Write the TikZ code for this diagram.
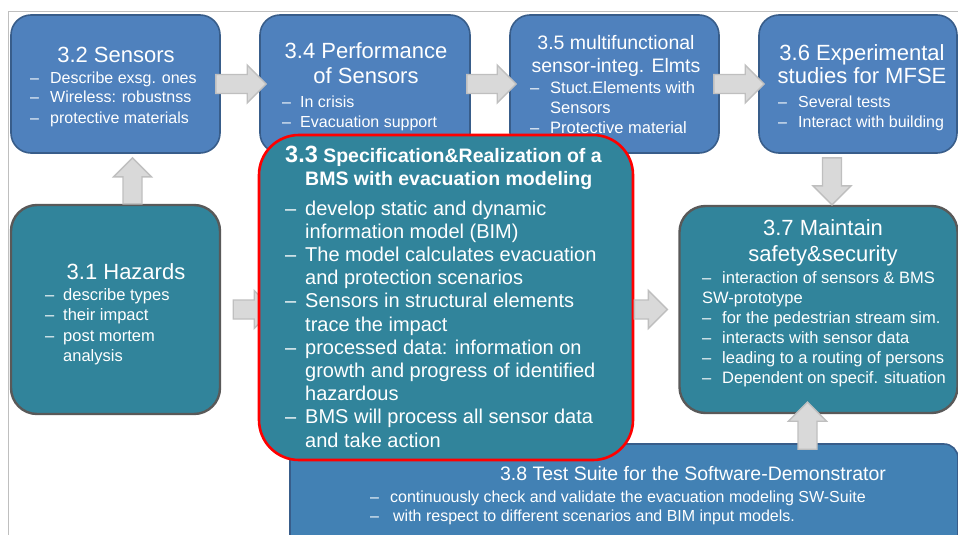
\documentclass[tikz,border=0pt]{standalone}
\usepackage{fontspec}
\setmainfont{Liberation Sans}
\usepackage{tikz}
\usetikzlibrary{calc}

\definecolor{wpblue}{HTML}{4F81BD}
\definecolor{wpblueline}{HTML}{385D8A}
\definecolor{wpteal}{HTML}{31849B}
\definecolor{wpgrayline}{HTML}{595959}
\definecolor{suiteblue}{HTML}{4281B4}
\definecolor{arrowfill}{HTML}{D9D9D9}
\definecolor{arrowline}{HTML}{BFBFBF}
\definecolor{framegray}{HTML}{BFBFBF}

\newcommand{\fsz}[2]{\fontsize{#1}{#2}\selectfont}
\newcommand{\itm}[2][20pt]{\makebox[#1][l]{–}#2}
\newcommand{\cnt}[2][20pt]{\hspace*{#1}#2}
\newcommand{\mpt}[2]{\begin{minipage}[t]{#1}#2\end{minipage}}

\begin{document}
\begin{tikzpicture}[
  x=1pt, y=-1pt,
  wp/.style={draw=wpblueline, fill=wpblue, line width=1.6pt, rounded corners=20pt, inner sep=0pt},
  haz/.style={draw=wpgrayline, fill=wpteal, line width=2.4pt, rounded corners=26pt, inner sep=0pt},
  bms/.style={draw=red, fill=wpteal, line width=2.6pt, rounded corners=40pt, inner sep=0pt},
  suite/.style={draw=wpblueline, fill=suiteblue, line width=1.6pt, rounded corners=14pt, inner sep=0pt},
  ttl/.style={inner sep=0pt, anchor=base, text=white},
  lst/.style={inner sep=0pt, anchor=base west, text=white},
  barrow/.style={draw=arrowline, fill=arrowfill, line width=1.4pt, line join=miter,
    to path={let \p1=(\tikztostart), \p2=(\tikztotarget),
      \n1={veclen(\x2-\x1,\y2-\y1)}, \n2={(\x2-\x1)/\n1}, \n3={(\y2-\y1)/\n1} in
      ({\x1-(\n3)*9.5},{\y1+(\n2)*9.5})
      -- ({\x2-(\n2)*19-(\n3)*9.5},{\y2-(\n3)*19+(\n2)*9.5})
      -- ({\x2-(\n2)*19-(\n3)*19},{\y2-(\n3)*19+(\n2)*19})
      -- (\p2)
      -- ({\x2-(\n2)*19+(\n3)*19},{\y2-(\n3)*19-(\n2)*19})
      -- ({\x2-(\n2)*19+(\n3)*9.5},{\y2-(\n3)*19-(\n2)*9.5})
      -- ({\x1+(\n3)*9.5},{\y1-(\n2)*9.5}) -- cycle}},
]
\useasboundingbox (0,0) rectangle (958,535);

%% frame
\draw[framegray, line width=1pt] (8,535) -- (8,12) -- (958,12);

%% boxes
\node[wp, minimum width=209pt, minimum height=138pt] (s32) at (115.5,84) {};
\node[wp, minimum width=210pt, minimum height=138pt] (s34) at (365,84) {};
\node[wp, minimum width=209pt, minimum height=138pt] (s35) at (614.5,84) {};
\node[wp, minimum width=198pt, minimum height=138pt] (s36) at (858,84) {};
\node[haz, minimum width=209pt, minimum height=209pt] (s31) at (115.5,309.5) {};
\node[haz, minimum width=278pt, minimum height=207pt] (s37) at (818.5,309.5) {};
\node[suite, minimum width=668pt, minimum height=116pt] (s38) at (624,502) {};

%% texts
\node[ttl] (t32) at (116,63) {\mpt{200pt}{\centering\fsz{22}{25}3.2 Sensors}};
\node[lst] (l32) at (30,83) {\mpt{190pt}{\raggedright\fsz{16}{20}%
  \itm{Describe exsg. ones}\\ \itm{Wireless: robustnss}\\ \itm{protective materials}}};

\node[ttl] (t34) at (366,59) {\mpt{200pt}{\centering\fsz{22}{25}3.4 Performance\\ of Sensors}};
\node[lst] (l34) at (282,107) {\mpt{190pt}{\raggedright\fsz{16}{20}%
  \itm[18pt]{In crisis}\\ \itm[18pt]{Evacuation support}}};

\node[ttl] (t35) at (616,49) {\mpt{205pt}{\centering\fsz{19.5}{24}3.5 multifunctional\\ sensor-integ. Elmts}};
\node[lst] (l35) at (530,93) {\mpt{190pt}{\raggedright\fsz{16.5}{20}%
  \itm{Stuct.Elements with}\\ \cnt{Sensors}\\ \itm{Protective material}}};

\node[ttl] (t36) at (862,60) {\mpt{200pt}{\centering\fsz{22}{24}3.6 Experimental\\ studies for MFSE}};
\node[lst] (l36) at (778,107) {\mpt{180pt}{\raggedright\fsz{16}{20}%
  \itm{Several tests}\\ \itm{Interact with building}}};

\node[ttl] (t31) at (126,279) {\mpt{200pt}{\centering\fsz{22}{25}3.1 Hazards}};
\node[lst] (l31) at (45,300) {\mpt{170pt}{\raggedright\fsz{16.5}{20.5}%
  \itm[18pt]{describe types}\\ \itm[18pt]{their impact}\\ \itm[18pt]{post mortem}\\ \cnt[18pt]{analysis}}};

\node[ttl] (t37) at (823,235) {\mpt{260pt}{\centering\fsz{22}{26}3.7 Maintain\\ safety\&security}};
\node[lst] (l37) at (702,283) {\mpt{255pt}{\raggedright\fsz{16.5}{20}%
  \itm{interaction of sensors \& BMS}\\ SW-prototype\\ \itm{for the pedestrian stream sim.}\\
  \itm{interacts with sensor data}\\ \itm{leading to a routing of persons}\\
  \itm{Dependent on specif. situation}}};

\node[ttl] (t38) at (693,480) {\mpt{450pt}{\centering\fsz{19.5}{22}3.8 Test Suite for the Software-Demonstrator}};
\node[lst] (l38) at (370,502) {\mpt{560pt}{\raggedright\fsz{16}{19}%
  \itm{continuously check and validate the evacuation modeling SW-Suite}\\
  \itm[23pt]{with respect to different scenarios and BIM input models.}}};

%% block arrows
\draw[barrow] ($(s32.east)+(-5,0)$) to ($(s34.west)+(7,0)$);
\draw[barrow] ($(s34.east)+(-4,0)$) to ($(s35.west)+(7,0)$);
\draw[barrow] ($(s35.east)+(-6,0)$) to ($(s36.west)+(6,0)$);
\draw[barrow] ($(s31.north)+(17,0)$) to ($(s32.south)+(17,4)$);
\draw[barrow] ($(s36.south)+(-26,4)$) to ($(s37.north)+(13.5,0)$);
\draw[barrow] ($(s38.north -| s37.south)+(-11,6)$) to ($(s37.south)+(-11,-12)$);
\draw[barrow] ($(s31.east)+(12,0)$) to ($(s31.east)+(52,0)$);

%% 3.3 on top
\node[bms, minimum width=374pt, minimum height=325pt] (s33) at (446,297.5) {};
\node[lst] (t33) at (285,162) {\mpt{350pt}{\raggedright\fsz{19.5}{23}\bfseries
  {\fsz{23.5}{23}3.3} Specification\&Realization of a\\ \cnt{BMS with evacuation modeling}}};
\node[lst] (l33) at (285,215) {\mpt{345pt}{\raggedright\fsz{20}{23.2}%
  \itm{develop static and dynamic}\\ \cnt{information model (BIM)}\\
  \itm{The model calculates evacuation}\\ \cnt{and protection scenarios}\\
  \itm{Sensors in structural elements}\\ \cnt{trace the impact}\\
  \itm{processed data: information on}\\ \cnt{growth and progress of identified}\\
  \cnt{hazardous}\\
  \itm{BMS will process all sensor data}\\ \cnt{and take action}}};

\draw[barrow] ($(s33.east |- s37.west)$) to ($(s37.west)+(-11,0)$);
\end{tikzpicture}
\end{document}
